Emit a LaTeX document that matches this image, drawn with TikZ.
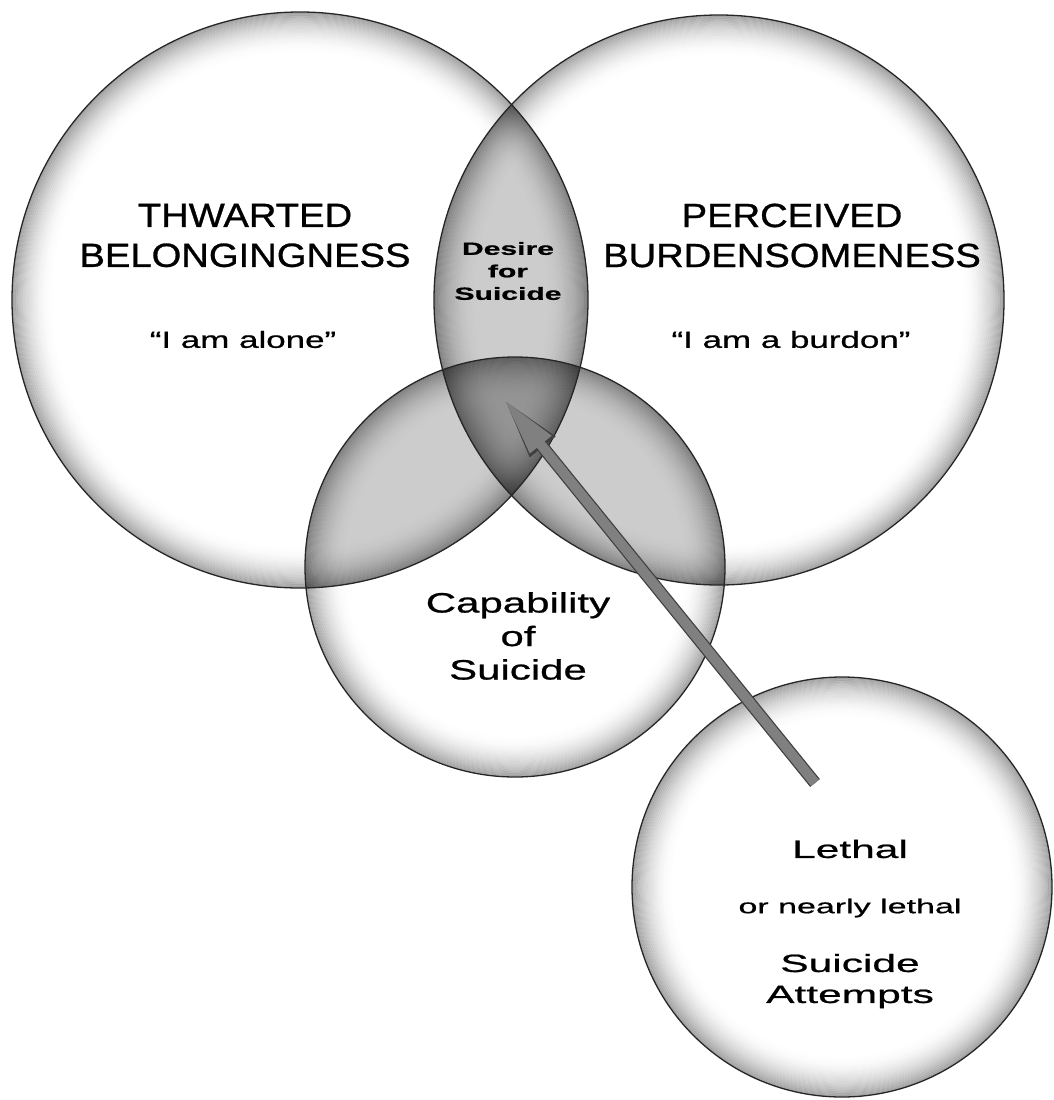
\documentclass[tikz,border=0pt]{standalone}
\usepackage{fontspec}
\setmainfont{Liberation Sans}
\newfontfamily\headfont[FakeStretch=1.14,FakeBold=0.9]{Liberation Sans}
\newfontfamily\widefont[FakeStretch=1.5,FakeBold=0.8]{Liberation Sans}
\newfontfamily\widerfont[FakeStretch=1.7,FakeBold=0.8]{Liberation Sans}
\usetikzlibrary{positioning,
                backgrounds,
                arrows.meta}

\tikzset{
  bubble/.style={circle, draw=black!85, line width=1.3pt, inner sep=0pt},
  lens/.style={fill=black!20},
  core/.style={fill=black!42},
  headtext/.style={align=center, font=\headfont\fontsize{33.5}{40}\selectfont},
  quotetext/.style={font=\widefont\fontsize{23.3}{28}\selectfont},
  captext/.style={align=center, font=\widefont\fontsize{28}{33.5}\selectfont},
  desiretext/.style={align=center, font=\widerfont\bfseries\fontsize{17.7}{22.5}\selectfont},
  lethaltext/.style={align=center, font=\widerfont\fontsize{25}{31}\selectfont},
  pointer/.style={line width=10pt, draw=black!50, -{Triangle[length=60pt,width=25pt]},
    preaction={draw=black!75, line width=12.5pt, -{Triangle[length=63pt,width=29pt]}}}
}

\begin{document}
\begin{tikzpicture}[x=1pt, y=-1pt]
 \useasboundingbox (0,0) rectangle (1053,1100);
 % the four bubbles
 \node[bubble, minimum size=576pt] (belong) at (300,300) {};
 \node[bubble, minimum size=570pt] (burden) at (719,300) {};
 \node[bubble, minimum size=420pt] (capab)  at (515,567) {};
 \node[bubble, minimum size=420pt] (lethal) at (842,887) {};

 \begin{scope}[on background layer]
   \fill[white] (0,0) rectangle (1053,1100);
   \begin{scope}
     \clip (belong.center) circle[radius=288pt];
     \fill[lens] (burden.center) circle[radius=285pt];
     \fill[lens] (capab.center) circle[radius=210pt];
   \end{scope}
   \begin{scope}
     \clip (burden.center) circle[radius=285pt];
     \fill[lens] (capab.center) circle[radius=210pt];
   \end{scope}
   \begin{scope}
     \clip (belong.center) circle[radius=288pt];
     \clip (burden.center) circle[radius=285pt];
     \fill[core] (capab.center) circle[radius=210pt];
   \end{scope}
   % grey rim inside every bubble
   \foreach \n/\r in {belong/288, burden/285, capab/210, lethal/210}{
     \foreach \k in {0,...,21}{
       \pgfmathsetmacro{\op}{0.34*(1-\k/22)^2}
       \draw[black, line width=1.9pt, opacity=\op] (\n.center) circle[radius=\r pt-0.95pt-\k*1.9pt];
     }
   }
 \end{scope}

 % labels
 \node[headtext] (belongtitle) at (245,235.5) {THWARTED\\BELONGINGNESS};
 \node[quotetext] (belongquote) at (243,339.5) {“I am alone”};
 \node[headtext] (burdentitle) at (792,235.5) {PERCEIVED\\BURDENSOMENESS};
 \node[quotetext] (burdenquote) at (791,339.5) {“I am a burdon”};
 \node[desiretext] (desire) at (508,271) {Desire\\for\\Suicide};
 \node[captext] (capabtext) at (518,636) {Capability\\of\\Suicide};
 \node[lethaltext] (lethaltitle) at (850,849) {Lethal};
 \node[lethaltext, font=\widerfont\fontsize{20}{24}\selectfont] (nearly) at (850,908) {or nearly lethal};
 \node[lethaltext] (attempts) at (850,981) {Suicide\\Attempts};

 \coordinate (tail) at (815,783);
 \coordinate (tip) at (503,398);
 \draw[pointer] (tail) -- (tip);
\end{tikzpicture}
\end{document}
